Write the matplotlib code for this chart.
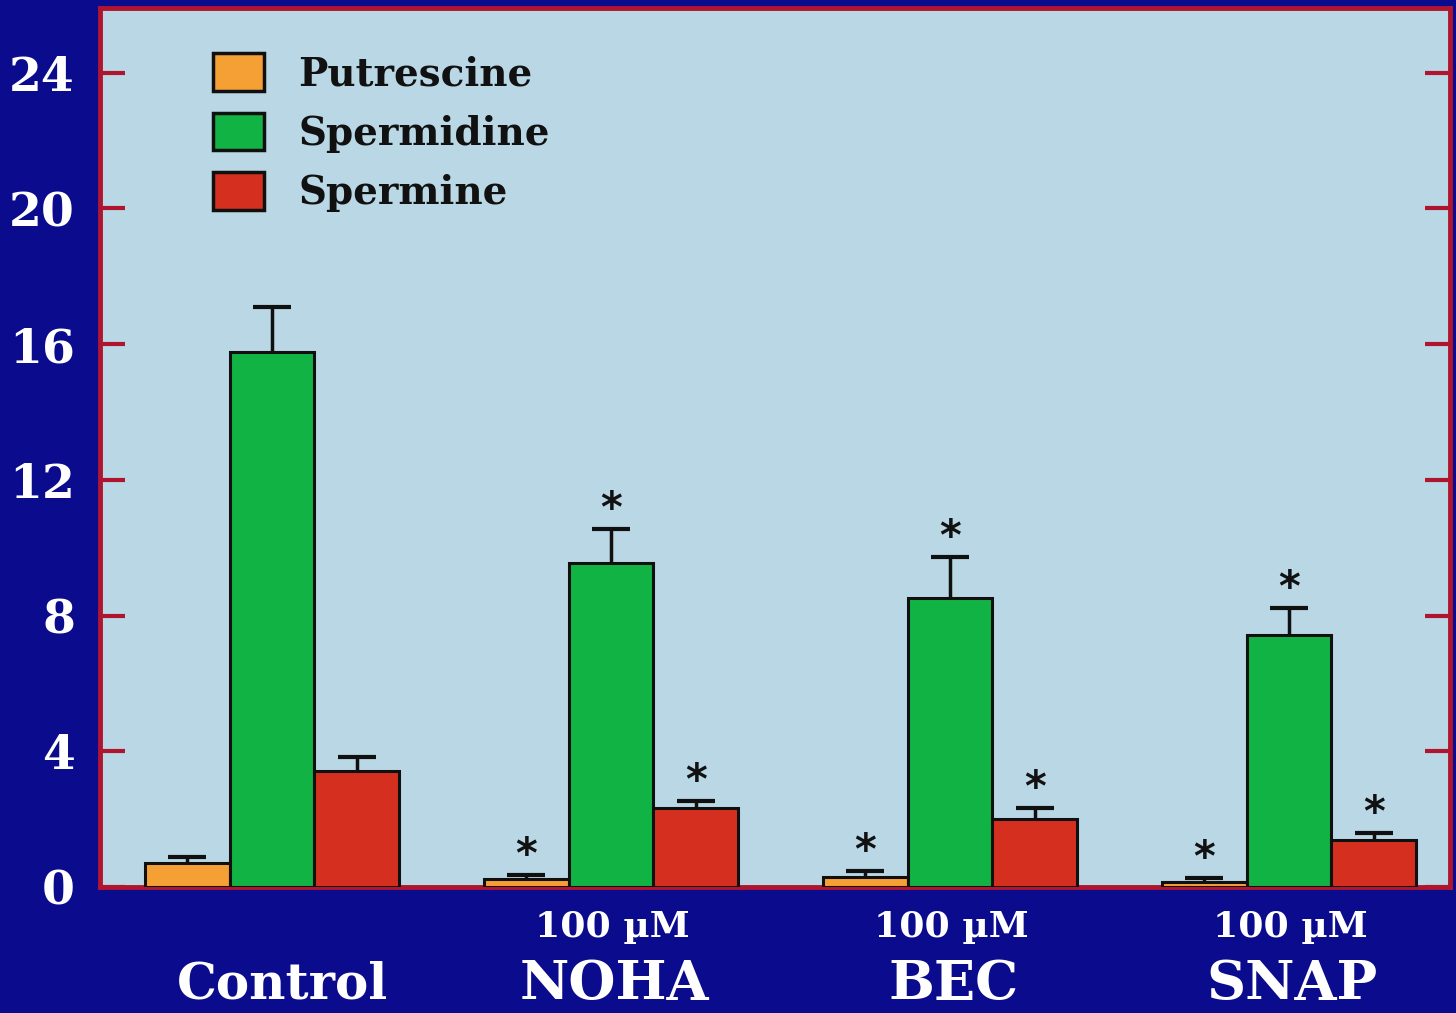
import matplotlib
matplotlib.use("Agg")
import matplotlib.pyplot as plt
import numpy as np
from matplotlib.patches import Patch
import matplotlib.transforms as mtransforms

groups = ["Control", "NOHA", "BEC", "SNAP"]
dose_labels = ["", "100 \u00b5M", "100 \u00b5M", "100 \u00b5M"]
series = ["Putrescine", "Spermidine", "Spermine"]
putrescine = [0.71, 0.24, 0.30, 0.15]
spermidine = [15.78, 9.55, 8.51, 7.42]
spermine = [3.43, 2.34, 2.01, 1.39]
putrescine_err = [0.18, 0.11, 0.17, 0.12]
spermidine_err = [1.31, 1.00, 1.22, 0.80]
spermine_err = [0.41, 0.20, 0.33, 0.21]
putrescine_sig = [False, True, True, True]
spermidine_sig = [False, True, True, True]
spermine_sig = [False, True, True, True]
yticks = [0, 4, 8, 12, 16, 20, 24]

colors = ["#f5a035", "#12b345", "#d5301f"]
fig_bg = "#0b0b8e"
ax_bg = "#b9d7e5"
frame_red = "#b01530"

plt.rcParams['font.family'] = ['DejaVu Serif']
fig = plt.figure(figsize=(14.56, 10.13), dpi=100, facecolor=fig_bg)
ax = fig.add_axes([0.0687, 0.1244, 0.9272, 0.8676])
ax.set_facecolor(ax_bg)

x = np.arange(len(groups))
w = 0.25
vals = [putrescine, spermidine, spermine]
errs = [putrescine_err, spermidine_err, spermine_err]
sigs = [putrescine_sig, spermidine_sig, spermine_sig]
for i, (v, e, s, c) in enumerate(zip(vals, errs, sigs, colors)):
    xs = x + (i - 1) * w
    ax.bar(xs, v, width=w, color=c, edgecolor="#101010", linewidth=2.2, zorder=3)
    eb = ax.errorbar(xs, v, yerr=[np.zeros(len(v)), e], fmt="none", ecolor="#101010",
                     elinewidth=2.5, capsize=14, capthick=3, zorder=2)
    caplines = eb[1]
    if len(caplines) == 2:
        caplines[0].set_visible(False)
    for xi, vi, ei, si in zip(xs, v, e, s):
        if si:
            ax.text(xi, vi + ei + 0.55, "*", ha="center", va="center",
                    fontsize=30, fontweight="bold", color="#111111",
                    family="DejaVu Sans", zorder=4)

ax.set_xlim(-0.507, 3.475)
ax.set_ylim(0, 25.9)
ax.set_yticks(yticks)
ax.set_yticklabels([str(t) for t in yticks], fontsize=34, fontweight="bold", color="white")
ax.set_xticks([])
ax.tick_params(axis="y", which="both", direction="in", length=18, width=3,
               color=frame_red, left=True, right=True, pad=18)
for sp in ax.spines.values():
    sp.set_color(frame_red)
    sp.set_linewidth(3.5)

trans = mtransforms.blended_transform_factory(ax.transData, fig.transFigure)
for xi, g, d in zip(x, groups, dose_labels):
    if d:
        ax.text(xi + 0.005, 1 - 927 / 1013, d, transform=trans, ha="center", va="center",
                fontsize=26, fontweight="bold", color="white")
    ax.text(xi + (0.03 if g == "Control" else 0.01), 1 - 985 / 1013, g, transform=trans,
            ha="center", va="center", fontsize=36 if g == "Control" else 39,
            fontweight="bold", color="white")

handles = [Patch(facecolor=c, edgecolor="#101010", linewidth=2.5) for c in colors]
leg = ax.legend(handles, series, loc="upper left",
                bbox_to_anchor=(213 / 1456, 1 - 53 / 1013), bbox_transform=fig.transFigure,
                frameon=False, fontsize=28, handlelength=1.3, handleheight=1.12,
                labelspacing=0.5, handletextpad=0.9, borderpad=0, borderaxespad=0)
for t in leg.get_texts():
    t.set_fontweight("bold")
    t.set_color("#111111")

fig.savefig("out.png", dpi=100, facecolor=fig_bg)
